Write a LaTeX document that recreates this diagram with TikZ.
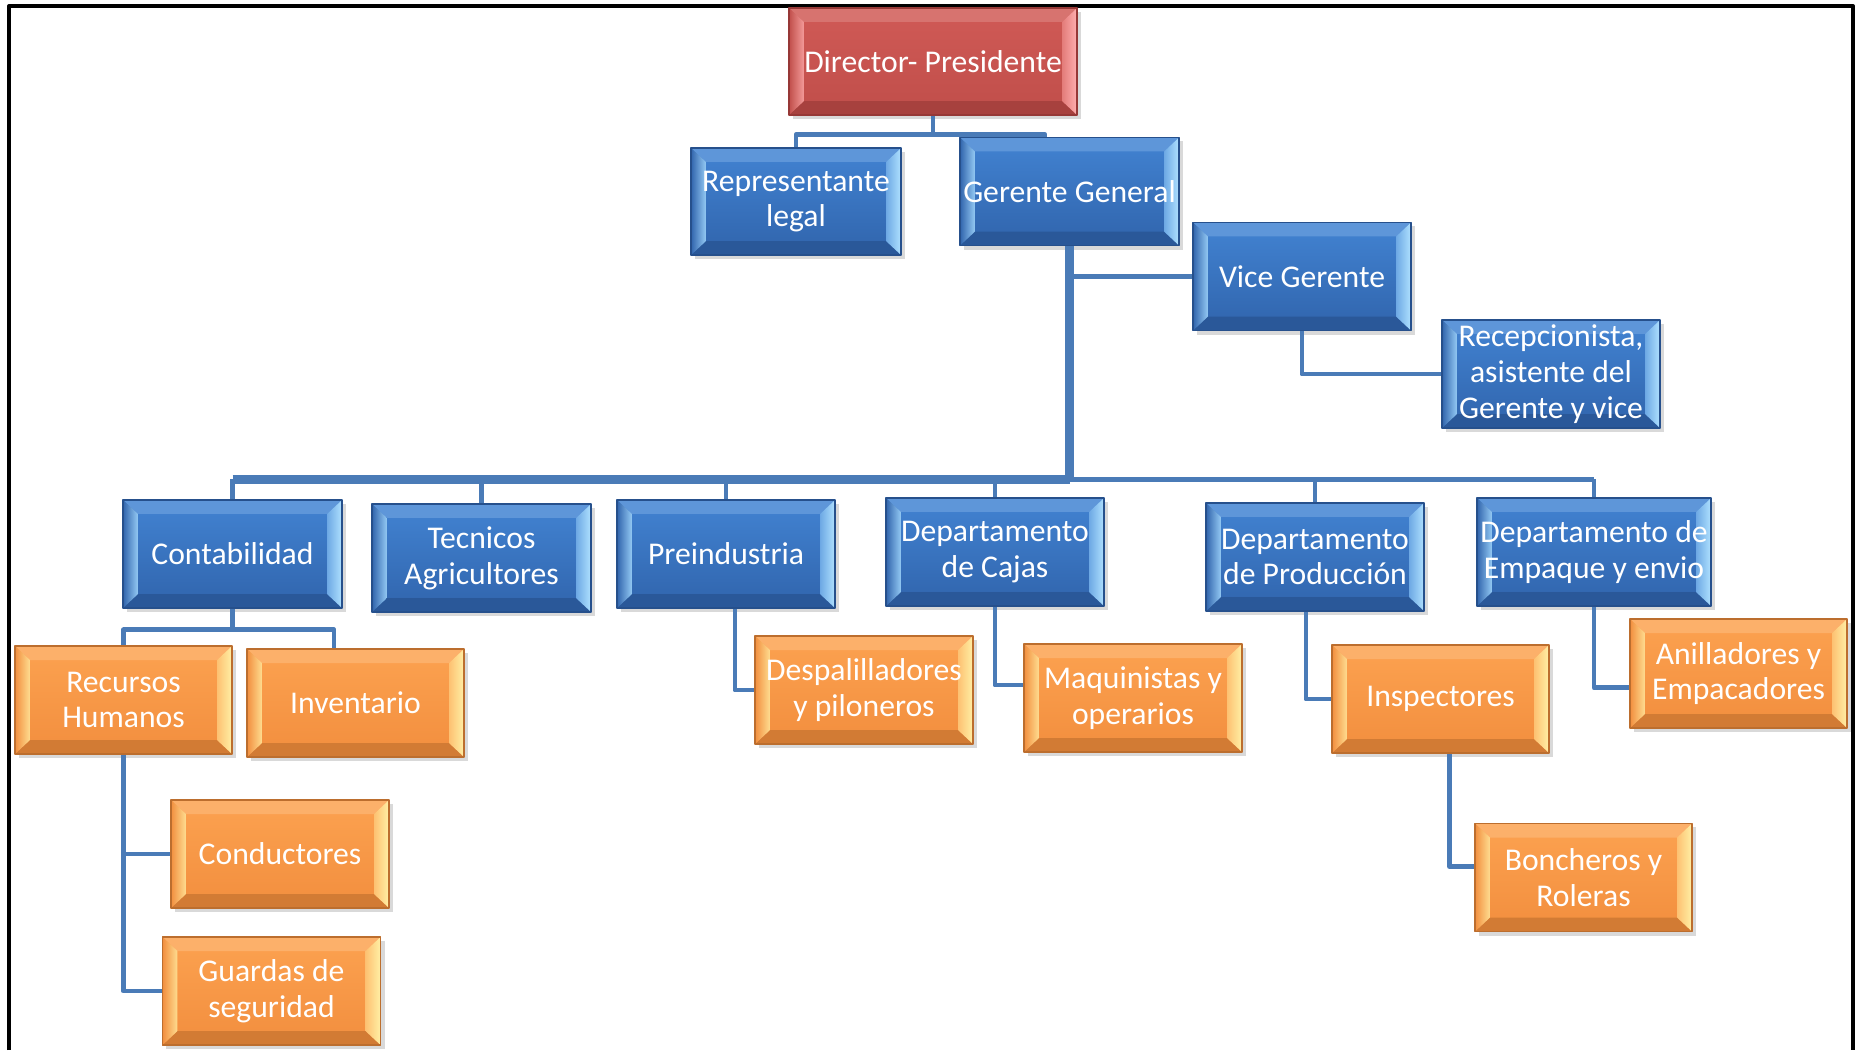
\documentclass[tikz,border=0pt]{standalone}
\usepackage{fontspec}
\setmainfont{Carlito}
\usetikzlibrary{shadows}

\definecolor{azulA}{RGB}{66,131,210}
\definecolor{azulB}{RGB}{48,100,172}
\definecolor{azulD}{RGB}{38,80,140}
\definecolor{azulL}{RGB}{175,225,255}
\definecolor{narA}{RGB}{252,162,80}
\definecolor{narB}{RGB}{242,142,62}
\definecolor{narD}{RGB}{188,110,46}
\definecolor{narL}{RGB}{255,240,165}
\definecolor{rojoA}{RGB}{208,90,86}
\definecolor{rojoB}{RGB}{192,78,74}
\definecolor{rojoD}{RGB}{150,56,54}
\definecolor{rojoL}{RGB}{255,175,175}
\definecolor{conector}{RGB}{74,123,183}

\tikzset{
  caja/.style n args={4}{rectangle, draw=#3, line width=0.5pt,
    top color=#1, bottom color=#2, text=white, align=center,
    inner sep=0pt, minimum width=2.18cm, minimum height=1.08cm,
    drop shadow={shadow xshift=0.04cm, shadow yshift=-0.04cm, opacity=0.3},
    path picture={
      \coordinate (bnw) at (path picture bounding box.north west);
      \coordinate (bse) at (path picture bounding box.south east);
      \coordinate (bne) at (bse |- bnw);
      \coordinate (bsw) at (bnw |- bse);
      % bisel
      \fill[#1!85!white] (bnw) -- (bne) -- ([shift={(-0.15cm,-0.14cm)}]bne)
        -- ([shift={(0.15cm,-0.14cm)}]bnw) -- cycle;
      \fill[#3!60!#2] (bsw) -- (bse) -- ([shift={(-0.15cm,0.14cm)}]bse)
        -- ([shift={(0.15cm,0.14cm)}]bsw) -- cycle;
      \shade[left color=#2, right color=#4!75!#1] (bnw) -- ([shift={(0.15cm,-0.14cm)}]bnw)
        -- ([shift={(0.15cm,0.14cm)}]bsw) -- (bsw) -- cycle;
      \shade[left color=#4!40!#1, right color=#4] (bne) -- ([shift={(-0.15cm,-0.14cm)}]bne)
        -- ([shift={(-0.15cm,0.14cm)}]bse) -- (bse) -- cycle;
    }},
}

\begin{document}
\begin{tikzpicture}[x=0.01cm, y=-0.01cm, font=\fontsize{9}{10.2}\selectfont,
    line join=round,
    azul/.style={caja={azulA}{azulB}{azulD}{azulL}},
    naranja/.style={caja={narA}{narB}{narD}{narL}},
    rojo/.style={caja={rojoA}{rojoB}{rojoD}{rojoL}},
    linea/.style={conector, line width=1.4pt},
    tronco/.style={conector, line width=2.4pt}]
  \useasboundingbox (0,0) rectangle (1860,1050);
  % marco
  \draw[line width=1.15pt] (9,1050) -- (9,6) -- (1853,6) -- (1853,1050);

  % direccion
  \node[rojo, minimum width=2.88cm, minimum height=1.07cm] (dir) at (933,61.5) {Director- Presidente};
  \node[azul, minimum width=2.1cm, minimum height=1.07cm] (rep) at (796,201.5) {Representante\\legal};
  \node[azul, minimum width=2.19cm] (gg) at (1069.5,191.5) {Gerente General};
  \node[azul] (vg) at (1302,276.5) {Vice Gerente};
  \node[azul] (rec) at (1551,374) {Recepcionista,\\asistente del\\Gerente y vice};

  % departamentos
  \node[azul, minimum width=2.19cm] (cont) at (232.5,554) {Contabilidad};
  \node[azul, minimum width=2.19cm] (tec) at (481.5,558) {Tecnicos\\Agricultores};
  \node[azul] (pre) at (726,554) {Preindustria};
  \node[azul] (caj) at (995,552) {Departamento\\de Cajas};
  \node[azul] (prod) at (1315,557) {Departamento\\de Producción};
  \node[azul, minimum width=2.34cm] (emp) at (1594,552) {Departamento de\\Empaque y envio};

  % personal
  \node[naranja, minimum width=2.17cm] (rh) at (123.5,700) {Recursos\\Humanos};
  \node[naranja, minimum width=2.17cm] (inv) at (355.5,703) {Inventario};
  \node[naranja] (des) at (864,690) {Despalilladores\\y piloneros};
  \node[naranja] (maq) at (1133,698) {Maquinistas y\\operarios};
  \node[naranja, minimum width=2.17cm] (insp) at (1440.5,699) {Inspectores};
  \node[naranja, minimum width=2.17cm, minimum height=1.09cm] (ani) at (1738.5,673.5) {Anilladores y\\Empacadores};
  \node[naranja] (cond) at (280,854) {Conductores};
  \node[naranja] (guar) at (271.5,991) {Guardas de\\seguridad};
  \node[naranja, minimum width=2.17cm] (bon) at (1583.5,877.5) {Boncheros y\\Roleras};

  % conectores
  \draw[linea] (dir.south) -- ++(0,19) coordinate (d1);
  \draw[linea] (rep.north) |- (d1) -| ([xshift=-0.245cm]gg.north);
  \draw[tronco] (gg.south) -- ++(0,233) coordinate (bus);
  \draw[linea] (gg.south) |- (vg.west);
  \draw[linea] (vg.south) |- (rec.west);
  \draw[tronco] (bus -| cont.north) -- (bus);
  \draw[linea] (bus) -- (bus -| emp.north);
  \foreach \d in {cont,tec,pre,caj,prod,emp}
    \draw[linea] (bus -| \d.north) -- (\d.north);
  \draw[linea] (cont.south) -- ++(0,21) coordinate (c1);
  \draw[linea] (rh.north) |- (c1) -| ([xshift=-0.215cm]inv.north);
  \draw[linea] (rh.south) |- (cond.west);
  \draw[linea] (rh.south) |- (guar.west);
  \draw[linea] ([xshift=0.09cm]pre.south) |- (des.west);
  \draw[linea] (caj.south) |- ([yshift=0.13cm]maq.west);
  \draw[linea] ([xshift=-0.09cm]prod.south) |- (insp.west);
  \draw[linea] (emp.south) |- ([yshift=-0.14cm]ani.west);
  \draw[linea] ([xshift=0.09cm]insp.south) |- ([yshift=0.11cm]bon.west);
\end{tikzpicture}
\end{document}
